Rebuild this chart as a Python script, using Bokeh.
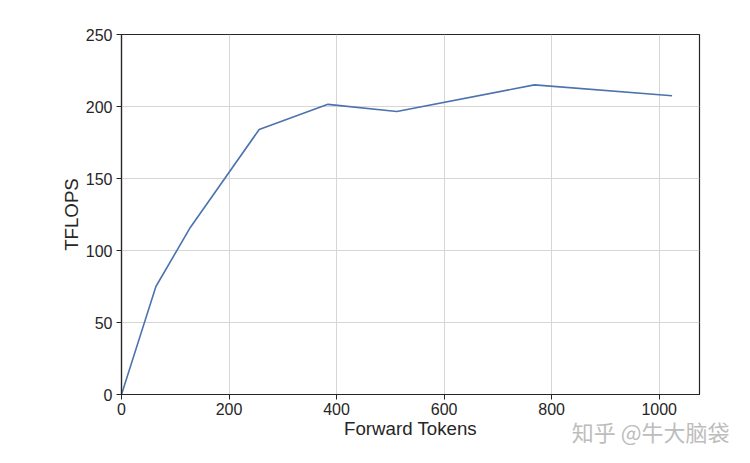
from bokeh.plotting import figure
from bokeh.models import Range1d, FixedTicker, Title
from bokeh.embed import file_html
from bokeh.resources import INLINE

tokens = [0, 64, 128, 256, 384, 512, 768, 1024]
tflops = [0, 75, 116, 184, 201.5, 196.5, 215, 207.5]
x_ticks = [0, 200, 400, 600, 800, 1000]
y_ticks = [0, 50, 100, 150, 200, 250]

p = figure(width=734, height=455, output_backend="svg", toolbar_location=None,
           x_range=Range1d(0, 1075), y_range=Range1d(0, 250),
           min_border_left=121, min_border_right=35, min_border_top=34, min_border_bottom=61)
p.background_fill_color = "white"
p.border_fill_color = "white"
p.outline_line_color = "#262626"
p.outline_line_width = 1.2

p.line(tokens, tflops, line_color="#4c72b0", line_width=1.6)

p.xaxis.ticker = FixedTicker(ticks=x_ticks)
p.yaxis.ticker = FixedTicker(ticks=y_ticks)
for ax in (p.xaxis[0], p.yaxis[0]):
    ax.axis_line_color = "#262626"
    ax.axis_line_width = 1.2
    ax.major_tick_line_color = "#262626"
    ax.major_tick_in = 0
    ax.major_tick_out = 5
    ax.minor_tick_line_color = None
    ax.major_label_text_font = "Liberation Sans"
    ax.major_label_text_font_size = "16px"
    ax.major_label_text_color = "#262626"
    ax.axis_label_text_font = "Liberation Sans"
    ax.axis_label_text_font_size = "18.7px"
    ax.axis_label_text_font_style = "normal"
    ax.axis_label_text_color = "#262626"
p.xaxis.axis_label = "Forward Tokens"
p.yaxis.axis_label = "TFLOPS"
p.xaxis.major_label_standoff = 3
p.yaxis.major_label_standoff = 4
p.xaxis.axis_label_standoff = 0
p.yaxis.axis_label_standoff = 1

p.grid.grid_line_color = "#d6d6d6"
p.grid.grid_line_width = 1

p.add_layout(Title(text="知乎 @牛大脑袋", align="right", vertical_align="top",
                   offset=-30, standoff=-54,
                   text_font="Noto Sans CJK SC", text_font_size="22px",
                   text_font_style="normal", text_color="#bdbdbd"), "below")

open("out.html", "w").write(file_html(p, INLINE))
